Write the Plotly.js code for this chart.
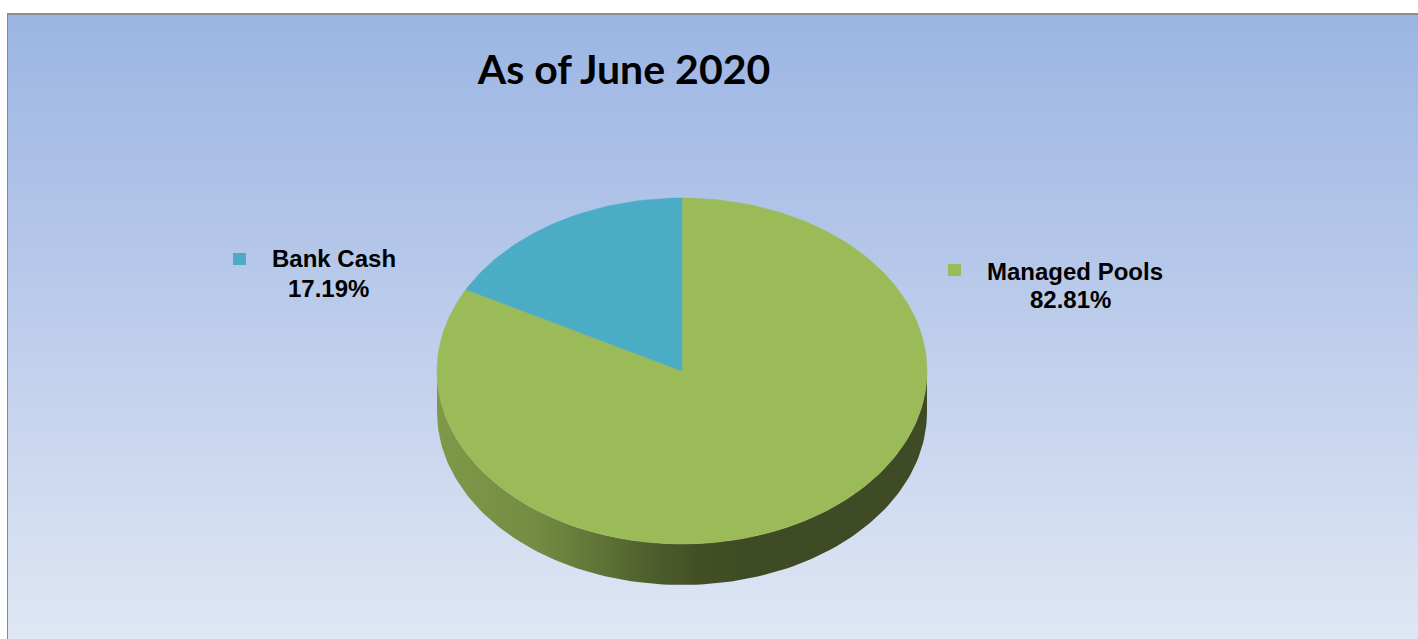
<!DOCTYPE html>
<html>
<head>
<meta charset="utf-8">
<script src="https://cdn.plot.ly/plotly-3.0.1.min.js"></script>
<style>
  html, body { margin: 0; padding: 0; background: #ffffff; }
  #frame {
    position: absolute; left: 7px; top: 13px; width: 1411px; height: 624px;
    border-top: 2px solid #8e8e8e; border-left: 1px solid #8a8a8a;
    background: linear-gradient(to bottom, #9bb5e3 0%, #bdcdeb 50%, #dfe7f4 100%);
  }
  #chart { position: absolute; left: 0; top: 0; width: 1418px; height: 639px; }
</style>
</head>
<body>
<div id="frame"></div>
<div id="chart"></div>
<script>
// ---- data ----
const chartTitle = "As of June 2020";
const categories = ["Managed Pools", "Bank Cash"];
const values = [82.81, 17.19];
const colors = ["#9bbb59", "#4bacc6"];

// ---- layout geometry (pixels) ----
const W = 1418, H = 639;
const CX = 682, CY = 371, RX = 245, RY = 173, DEPTH = 41;
const N = 240;

function pt(t, dy) {
  const a = 2 * Math.PI * t;
  return [CX + RX * Math.sin(a), CY - RY * Math.cos(a) + (dy || 0)];
}
function hexToRgb(h) {
  const n = parseInt(h.slice(1), 16);
  return [(n >> 16) & 255, (n >> 8) & 255, n & 255];
}
function shade(h, f) {
  const c = hexToRgb(h).map(v => Math.round(v * f));
  return `rgb(${c[0]},${c[1]},${c[2]})`;
}

const total = values.reduce((a, b) => a + b, 0);
const traces = [];
let acc = 0;
const slices = values.map((v, i) => {
  const s = acc / total; acc += v; const e = acc / total;
  return { s, e, i };
});

// side walls (front half: t in [0.25, 0.75])
slices.forEach(({ s, e, i }) => {
  const a = Math.max(s, 0.25), b = Math.min(e, 0.75);
  if (b <= a) return;
  const xs = [], ys = [];
  const steps = Math.max(2, Math.round(N * (b - a)));
  for (let k = 0; k <= steps; k++) { const p = pt(a + (b - a) * k / steps, 0); xs.push(p[0]); ys.push(p[1]); }
  for (let k = steps; k >= 0; k--) { const p = pt(a + (b - a) * k / steps, DEPTH); xs.push(p[0]); ys.push(p[1]); }
  xs.push(xs[0]); ys.push(ys[0]);
  traces.push({
    type: "scatter", mode: "lines", x: xs, y: ys, fill: "toself",
    line: { width: 0, color: "rgba(0,0,0,0)" },
    fillgradient: {
      type: "horizontal", start: CX - RX, stop: CX + RX,
      colorscale: [
        [0.0, shade(colors[i], 0.82)],
        [0.2, shade(colors[i], 0.75)],
        [0.33, shade(colors[i], 0.62)],
        [0.43, shade(colors[i], 0.51)],
        [0.53, shade(colors[i], 0.43)],
        [0.63, shade(colors[i], 0.40)],
        [1.0, shade(colors[i], 0.40)]
      ]
    },
    hoverinfo: "skip", showlegend: false
  });
});

// top faces
slices.forEach(({ s, e, i }) => {
  const xs = [CX], ys = [CY];
  const steps = Math.max(2, Math.round(N * (e - s)));
  for (let k = 0; k <= steps; k++) { const p = pt(s + (e - s) * k / steps, 0); xs.push(p[0]); ys.push(p[1]); }
  xs.push(CX); ys.push(CY);
  traces.push({
    type: "scatter", mode: "lines", x: xs, y: ys, fill: "toself",
    fillcolor: colors[i], line: { width: 0.5, color: colors[i] },
    name: categories[i], hoverinfo: "name", showlegend: false
  });
});

// labels (positions in pixels)
const labelPos = [
  { key: [948, 264], name: [985, 271], pct: [1028, 299] },
  { key: [233, 253], name: [270, 258], pct: [286, 288] }
];
const annotations = [], shapes = [];
const lf = { family: "Liberation Sans, Arial, sans-serif", size: 24, color: "#000000", weight: "bold" };
values.forEach((v, i) => {
  const L = labelPos[i];
  shapes.push({ type: "rect", xref: "x", yref: "y", x0: L.key[0], x1: L.key[0] + 13, y0: L.key[1], y1: L.key[1] + 12,
    fillcolor: colors[i], line: { width: 0 } });
  annotations.push({ x: L.name[0], y: L.name[1], xref: "x", yref: "y", xanchor: "left", yanchor: "middle",
    text: categories[i], showarrow: false, font: lf });
  annotations.push({ x: L.pct[0], y: L.pct[1], xref: "x", yref: "y", xanchor: "left", yanchor: "middle",
    text: (v / total * 100).toFixed(2) + "%", showarrow: false, font: lf });
});

const layout = {
  width: W, height: H,
  margin: { l: 0, r: 0, t: 0, b: 0 },
  paper_bgcolor: "rgba(0,0,0,0)", plot_bgcolor: "rgba(0,0,0,0)",
  title: {
    text: chartTitle, x: 624 / W, xanchor: "center", xref: "paper",
    y: 1 - 70 / H, yanchor: "middle", yref: "container",
    font: { family: "Lato, sans-serif", size: 41, color: "#000000", weight: "bold" }
  },
  xaxis: { range: [0, W], visible: false, fixedrange: true },
  yaxis: { range: [H, 0], visible: false, fixedrange: true },
  showlegend: false,
  annotations, shapes
};

Plotly.newPlot("chart", traces, layout, { displayModeBar: false, staticPlot: true });
</script>
</body>
</html>
